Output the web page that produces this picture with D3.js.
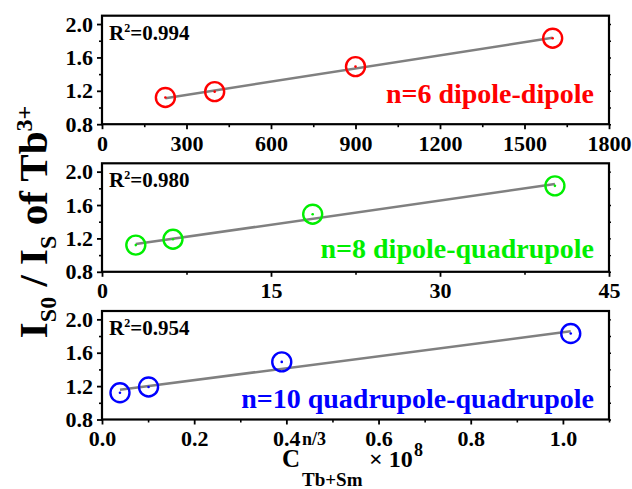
<!DOCTYPE html>
<html>
<head>
<meta charset="utf-8">
<script src="https://cdn.jsdelivr.net/npm/d3@7"></script>
<style>
body { margin: 0; background: #fff; }
text { font-family: "Liberation Serif", "DejaVu Serif", serif; font-weight: bold; }
</style>
</head>
<body>
<svg id="chart" width="632" height="489"></svg>
<script>
// C^(n/3) for each interaction type, one array per panel
var xTop = [225, 400, 900, 1600];
var xMid = [3.0, 6.3, 18.7, 40.2];
var xBot = [0.039, 0.101, 0.39, 1.017];
// I_S0 / I_S of Tb3+ (same measured points in every panel)
var ratio = [1.12, 1.19, 1.49, 1.83];
// linear fit, value at first and last point
var fitStart = [1.112, 1.132, 1.156];
var fitEnd = [1.836, 1.851, 1.857];

var r2Labels = ["0.994", "0.980", "0.954"];
var modeLabels = ["n=6 dipole-dipole", "n=8 dipole-quadrupole", "n=10 quadrupole-quadrupole"];
var colors = ["#ff0000", "#00ee00", "#0000ff"];

var xDomains = [[0, 1800], [0, 45], [0, 1.1]];
var xMajor = [[0, 300, 600, 900, 1200, 1500, 1800], [0, 15, 30, 45], [0, 0.2, 0.4, 0.6, 0.8, 1.0]];
var xMinor = [[150, 450, 750, 1050, 1350, 1650], [7.5, 22.5, 37.5], [0.1, 0.3, 0.5, 0.7, 0.9, 1.1]];
var xFormats = ["d", "d", ".1f"];
var yMajor = [0.8, 1.2, 1.6, 2.0];
var yMinor = [1.0, 1.4, 1.8];
var yRight = [0.8, 1.0, 1.2, 1.4, 1.6, 1.8, 2.0];

var xSeries = [xTop, xMid, xBot];

// layout
var LEFT = 102, W = 507, H = 108.5;
var panelTop = [15.7, 163.3, 311];
var labelLift = [21, 14, 12];
var FONT = "'Liberation Serif','DejaVu Serif',serif";

var svg = d3.select("#chart");

function translate(x, y) {
  return "translate(" + x + "," + y + ")";
}

function styleAxis(sel, sw) {
  sel.attr("font-family", FONT);
  sel.select(".domain").remove();
  sel.selectAll("line").attr("stroke", "#000").attr("stroke-width", sw);
  sel.selectAll("text")
    .attr("fill", "#000")
    .style("font-size", "22px")
    .style("font-family", FONT)
    .style("font-weight", "bold");
}

function drawPanel(i) {
  var g = svg.append("g").attr("transform", translate(LEFT, panelTop[i]));
  var x = d3.scaleLinear().domain(xDomains[i]).range([0, W]);
  var y = d3.scaleLinear().domain([0.8, 2.1]).range([H, 0]);

  // x axis: minor then major
  g.append("g").attr("transform", translate(0, H))
    .call(d3.axisBottom(x).tickValues(xMinor[i]).tickSize(3).tickSizeOuter(0).tickFormat(""))
    .call(styleAxis, 1.6);
  g.append("g").attr("transform", translate(0, H))
    .call(d3.axisBottom(x).tickValues(xMajor[i]).tickSize(5).tickSizeOuter(0)
      .tickPadding(6).tickFormat(d3.format(xFormats[i])))
    .call(styleAxis, 1.8);

  // y axis
  g.append("g")
    .call(d3.axisLeft(y).tickValues(yMinor).tickSize(3).tickSizeOuter(0).tickFormat(""))
    .call(styleAxis, 1.6);
  g.append("g")
    .call(d3.axisLeft(y).tickValues(yMajor).tickSize(5).tickSizeOuter(0)
      .tickPadding(4).tickFormat(d3.format(".1f")))
    .call(styleAxis, 1.8);

  // little ticks on the right edge
  g.append("g").attr("transform", translate(W, 0))
    .call(d3.axisRight(y).tickValues(yRight).tickSize(2).tickSizeOuter(0).tickFormat(""))
    .call(styleAxis, 1.4);

  // frame
  g.append("rect")
    .attr("width", W).attr("height", H)
    .attr("fill", "none").attr("stroke", "#000").attr("stroke-width", 2.2);

  var xs = xSeries[i];
  var pts = xs.map(function(v, k) { return { x: v, y: ratio[k] }; });

  // fit line
  g.append("line")
    .attr("x1", x(xs[0])).attr("y1", y(fitStart[i]))
    .attr("x2", x(xs[xs.length - 1])).attr("y2", y(fitEnd[i]))
    .attr("stroke", "#808080").attr("stroke-width", 2.5);

  // hollow circles with a small centre dot
  g.selectAll("circle.pt")
    .data(pts)
  .enter()
    .append("circle")
    .attr("class", "pt")
    .attr("cx", function(d) { return x(d.x); })
    .attr("cy", function(d) { return y(d.y); })
    .attr("r", 9.5)
    .attr("fill", "none")
    .attr("stroke", colors[i])
    .attr("stroke-width", 2.4);
  g.selectAll("circle.dot")
    .data(pts)
  .enter()
    .append("circle")
    .attr("class", "dot")
    .attr("cx", function(d) { return x(d.x); })
    .attr("cy", function(d) { return y(d.y); })
    .attr("r", 1.3)
    .attr("fill", colors[i]);

  // R^2 text
  var r2 = g.append("text")
    .attr("x", 7).attr("y", 24)
    .style("font-size", "21px")
    .attr("fill", "#000");
  r2.append("tspan").text("R");
  r2.append("tspan").attr("dy", -8).style("font-size", "12px").text("2");
  r2.append("tspan").attr("dy", 8).text("=" + r2Labels[i]);

  // interaction label
  g.append("text")
    .attr("x", 492).attr("y", H - labelLift[i])
    .attr("text-anchor", "end")
    .style("font-size", "28px")
    .attr("fill", colors[i])
    .text(modeLabels[i]);
}

[0, 1, 2].forEach(drawPanel);

// y axis title
var yt = svg.append("text")
  .attr("transform", "translate(47,222) rotate(-90)")
  .attr("text-anchor", "middle")
  .style("font-size", "41px")
  .attr("fill", "#000");
yt.append("tspan").text("I");
yt.append("tspan").attr("dy", 9).style("font-size", "24px").text("S0");
yt.append("tspan").attr("dy", -9).text(" / I");
yt.append("tspan").attr("dy", 9).style("font-size", "24px").text("S");
yt.append("tspan").attr("dy", -9).text(" of Tb");
yt.append("tspan").attr("dy", -15).style("font-size", "24px").text("3+");

// x axis title
svg.append("text").attr("x", 282).attr("y", 467).style("font-size", "25px").text("C");
svg.append("text").attr("x", 302).attr("y", 445).style("font-size", "18px").text("n/3");
svg.append("text").attr("x", 302).attr("y", 486).style("font-size", "19px").text("Tb+Sm");
svg.append("text").attr("x", 369).attr("y", 467).style("font-size", "24px").text("\u00d7 10");
svg.append("text").attr("x", 414).attr("y", 456).style("font-size", "18px").text("8");
</script>
</body>
</html>
